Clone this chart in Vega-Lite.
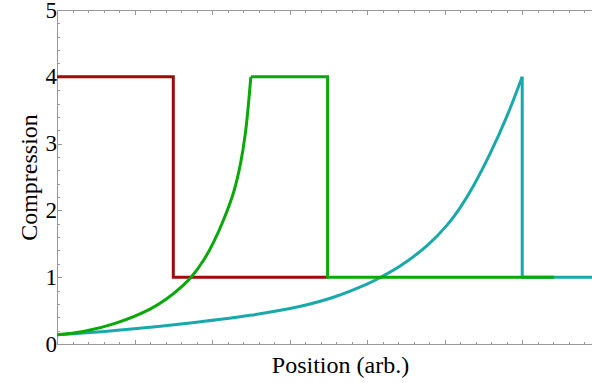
{
  "$schema": "https://vega.github.io/schema/vega-lite/v6.json",
  "width": 535,
  "height": 334,
  "autosize": "none",
  "padding": {"left": 57, "top": 10, "right": 0, "bottom": 39},
  "background": "white",
  "config": {"view": {"stroke": null}, "axis": {"labelOverlap": false, "labelBound": false, "labelFlush": false}},
  "datasets": {
    "curves": [
      {"s": "teal", "p": "c", "i": 0, "x": 0, "y": 0.137},
      {"s": "teal", "p": "c", "i": 1, "x": 0.34, "y": 0.163},
      {"s": "teal", "p": "c", "i": 2, "x": 0.778, "y": 0.205},
      {"s": "teal", "p": "c", "i": 3, "x": 1.204, "y": 0.252},
      {"s": "teal", "p": "c", "i": 4, "x": 1.85, "y": 0.333},
      {"s": "teal", "p": "c", "i": 5, "x": 2.494, "y": 0.43},
      {"s": "teal", "p": "c", "i": 6, "x": 3.14, "y": 0.565},
      {"s": "teal", "p": "c", "i": 7, "x": 3.565, "y": 0.7},
      {"s": "teal", "p": "c", "i": 8, "x": 4.004, "y": 0.9},
      {"s": "teal", "p": "c", "i": 9, "x": 4.17, "y": 0.995},
      {"s": "teal", "p": "c", "i": 10, "x": 4.43, "y": 1.17},
      {"s": "teal", "p": "c", "i": 11, "x": 4.78, "y": 1.48},
      {"s": "teal", "p": "c", "i": 12, "x": 5.036, "y": 1.787},
      {"s": "teal", "p": "c", "i": 13, "x": 5.204, "y": 2.05},
      {"s": "teal", "p": "c", "i": 14, "x": 5.372, "y": 2.37},
      {"s": "teal", "p": "c", "i": 15, "x": 5.59, "y": 2.86},
      {"s": "teal", "p": "c", "i": 16, "x": 5.81, "y": 3.43},
      {"s": "teal", "p": "c", "i": 17, "x": 6.0, "y": 4.0},
      {"s": "teal", "p": "s", "i": 18, "x": 6.0, "y": 4.0},
      {"s": "teal", "p": "s", "i": 19, "x": 6.0, "y": 1.0},
      {"s": "teal", "p": "s", "i": 20, "x": 6.9, "y": 1.0},
      {"s": "red", "p": "s", "i": 0, "x": 0, "y": 4},
      {"s": "red", "p": "s", "i": 1, "x": 1.5, "y": 4},
      {"s": "red", "p": "s", "i": 2, "x": 1.5, "y": 1},
      {"s": "red", "p": "s", "i": 3, "x": 3.49, "y": 1},
      {"s": "green", "p": "c", "i": 0, "x": 0, "y": 0.137},
      {"s": "green", "p": "c", "i": 1, "x": 0.34, "y": 0.188},
      {"s": "green", "p": "c", "i": 2, "x": 0.77, "y": 0.317},
      {"s": "green", "p": "c", "i": 3, "x": 1.2, "y": 0.523},
      {"s": "green", "p": "c", "i": 4, "x": 1.42, "y": 0.681},
      {"s": "green", "p": "c", "i": 5, "x": 1.63, "y": 0.881},
      {"s": "green", "p": "c", "i": 6, "x": 1.74, "y": 1.013},
      {"s": "green", "p": "c", "i": 7, "x": 1.89, "y": 1.253},
      {"s": "green", "p": "c", "i": 8, "x": 2.02, "y": 1.526},
      {"s": "green", "p": "c", "i": 9, "x": 2.15, "y": 1.864},
      {"s": "green", "p": "c", "i": 10, "x": 2.28, "y": 2.28},
      {"s": "green", "p": "c", "i": 11, "x": 2.365, "y": 2.69},
      {"s": "green", "p": "c", "i": 12, "x": 2.43, "y": 3.16},
      {"s": "green", "p": "c", "i": 13, "x": 2.5, "y": 4.0},
      {"s": "green", "p": "s", "i": 14, "x": 2.5, "y": 4.0},
      {"s": "green", "p": "s", "i": 15, "x": 3.49, "y": 4.0},
      {"s": "green", "p": "s", "i": 16, "x": 3.49, "y": 1.0},
      {"s": "green", "p": "s", "i": 17, "x": 6.41, "y": 1.0}
    ]
  },
  "data": {"name": "curves"},
  "layer": [
    {
      "transform": [{"filter": "datum.s === 'teal' && datum.p === 'c'"}],
      "mark": {"type": "line", "color": "#1aa9ab", "strokeWidth": 3, "clip": true, "interpolate": "catmull-rom"},
      "encoding": {
        "x": {
          "field": "x", "type": "quantitative",
          "scale": {"domain": [0, 6.9], "nice": false, "zero": false},
          "axis": {
            "orient": "bottom",
            "values": [0,0.2,0.4,0.6,0.8,1,1.2,1.4,1.6,1.8,2,2.2,2.4,2.6,2.8,3,3.2,3.4,3.6,3.8,4,4.2,4.4,4.6,4.8,5,5.2,5.4,5.6,5.8,6,6.2,6.4,6.6,6.8],
            "tickCount": 200,
            "labels": false,
            "grid": false,
            "domainColor": "#9a9a9a",
            "tickColor": "#9a9a9a",
            "tickSize": {"condition": {"test": "abs(datum.value - round(datum.value)) < 0.001", "value": -4.5}, "value": -2.5},
            "title": "Position (arb.)",
            "titleFont": "Liberation Serif",
            "titleFontSize": 24,
            "titleFontWeight": "normal",
            "titleColor": "black",
            "titlePadding": 9,
            "titleX": 283
          }
        },
        "y": {
          "field": "y", "type": "quantitative",
          "scale": {"domain": [0, 5], "nice": false},
          "axis": {
            "values": [0,0.2,0.4,0.6,0.8,1,1.2,1.4,1.6,1.8,2,2.2,2.4,2.6,2.8,3,3.2,3.4,3.6,3.8,4,4.2,4.4,4.6,4.8,5],
            "tickCount": 200,
            "labelExpr": "datum.value === round(datum.value) ? '' + datum.value : ''",
            "labelFont": "Liberation Serif",
            "labelFontSize": 23,
            "labelColor": "black",
            "labelPadding": 5,
            "labelOverlap": false,
            "grid": false,
            "domainColor": "#9a9a9a",
            "tickColor": "#9a9a9a",
            "tickSize": {"condition": {"test": "abs(datum.value - round(datum.value)) < 0.001", "value": -4.5}, "value": -2.5},
            "title": "Compression",
            "titleFont": "Liberation Serif",
            "titleFontSize": 24,
            "titleFontWeight": "normal",
            "titleColor": "black",
            "titlePadding": 4
          }
        },
        "order": {"field": "i"}
      }
    },
    {
      "transform": [{"filter": "datum.s === 'teal' && datum.p === 's'"}],
      "mark": {"type": "line", "color": "#1aa9ab", "strokeWidth": 3, "clip": true},
      "encoding": {
        "x": {"field": "x", "type": "quantitative", "axis": null},
        "y": {"field": "y", "type": "quantitative"},
        "order": {"field": "i"}
      }
    },
    {
      "transform": [{"filter": "datum.s === 'red'"}],
      "mark": {"type": "line", "color": "#a00a0a", "strokeWidth": 3, "clip": true},
      "encoding": {
        "x": {"field": "x", "type": "quantitative",
          "axis": {
            "orient": "top",
            "values": [0,0.2,0.4,0.6,0.8,1,1.2,1.4,1.6,1.8,2,2.2,2.4,2.6,2.8,3,3.2,3.4,3.6,3.8,4,4.2,4.4,4.6,4.8,5,5.2,5.4,5.6,5.8,6,6.2,6.4,6.6,6.8],
            "tickCount": 200,
            "labels": false,
            "grid": false,
            "title": null,
            "domainColor": "#9a9a9a",
            "tickColor": "#9a9a9a",
            "tickSize": {"condition": {"test": "abs(datum.value - round(datum.value)) < 0.001", "value": -4.5}, "value": -2.5}
          }
        },
        "y": {"field": "y", "type": "quantitative"},
        "order": {"field": "i"}
      }
    },
    {
      "transform": [{"filter": "datum.s === 'green' && datum.p === 'c'"}],
      "mark": {"type": "line", "color": "#0aa80a", "strokeWidth": 3, "clip": true, "interpolate": "catmull-rom"},
      "encoding": {
        "x": {"field": "x", "type": "quantitative", "axis": null},
        "y": {"field": "y", "type": "quantitative"},
        "order": {"field": "i"}
      }
    },
    {
      "transform": [{"filter": "datum.s === 'green' && datum.p === 's'"}],
      "mark": {"type": "line", "color": "#0aa80a", "strokeWidth": 3, "clip": true},
      "encoding": {
        "x": {"field": "x", "type": "quantitative", "axis": null},
        "y": {"field": "y", "type": "quantitative"},
        "order": {"field": "i"}
      }
    }
  ],
  "resolve": {"axis": {"x": "independent"}}
}
